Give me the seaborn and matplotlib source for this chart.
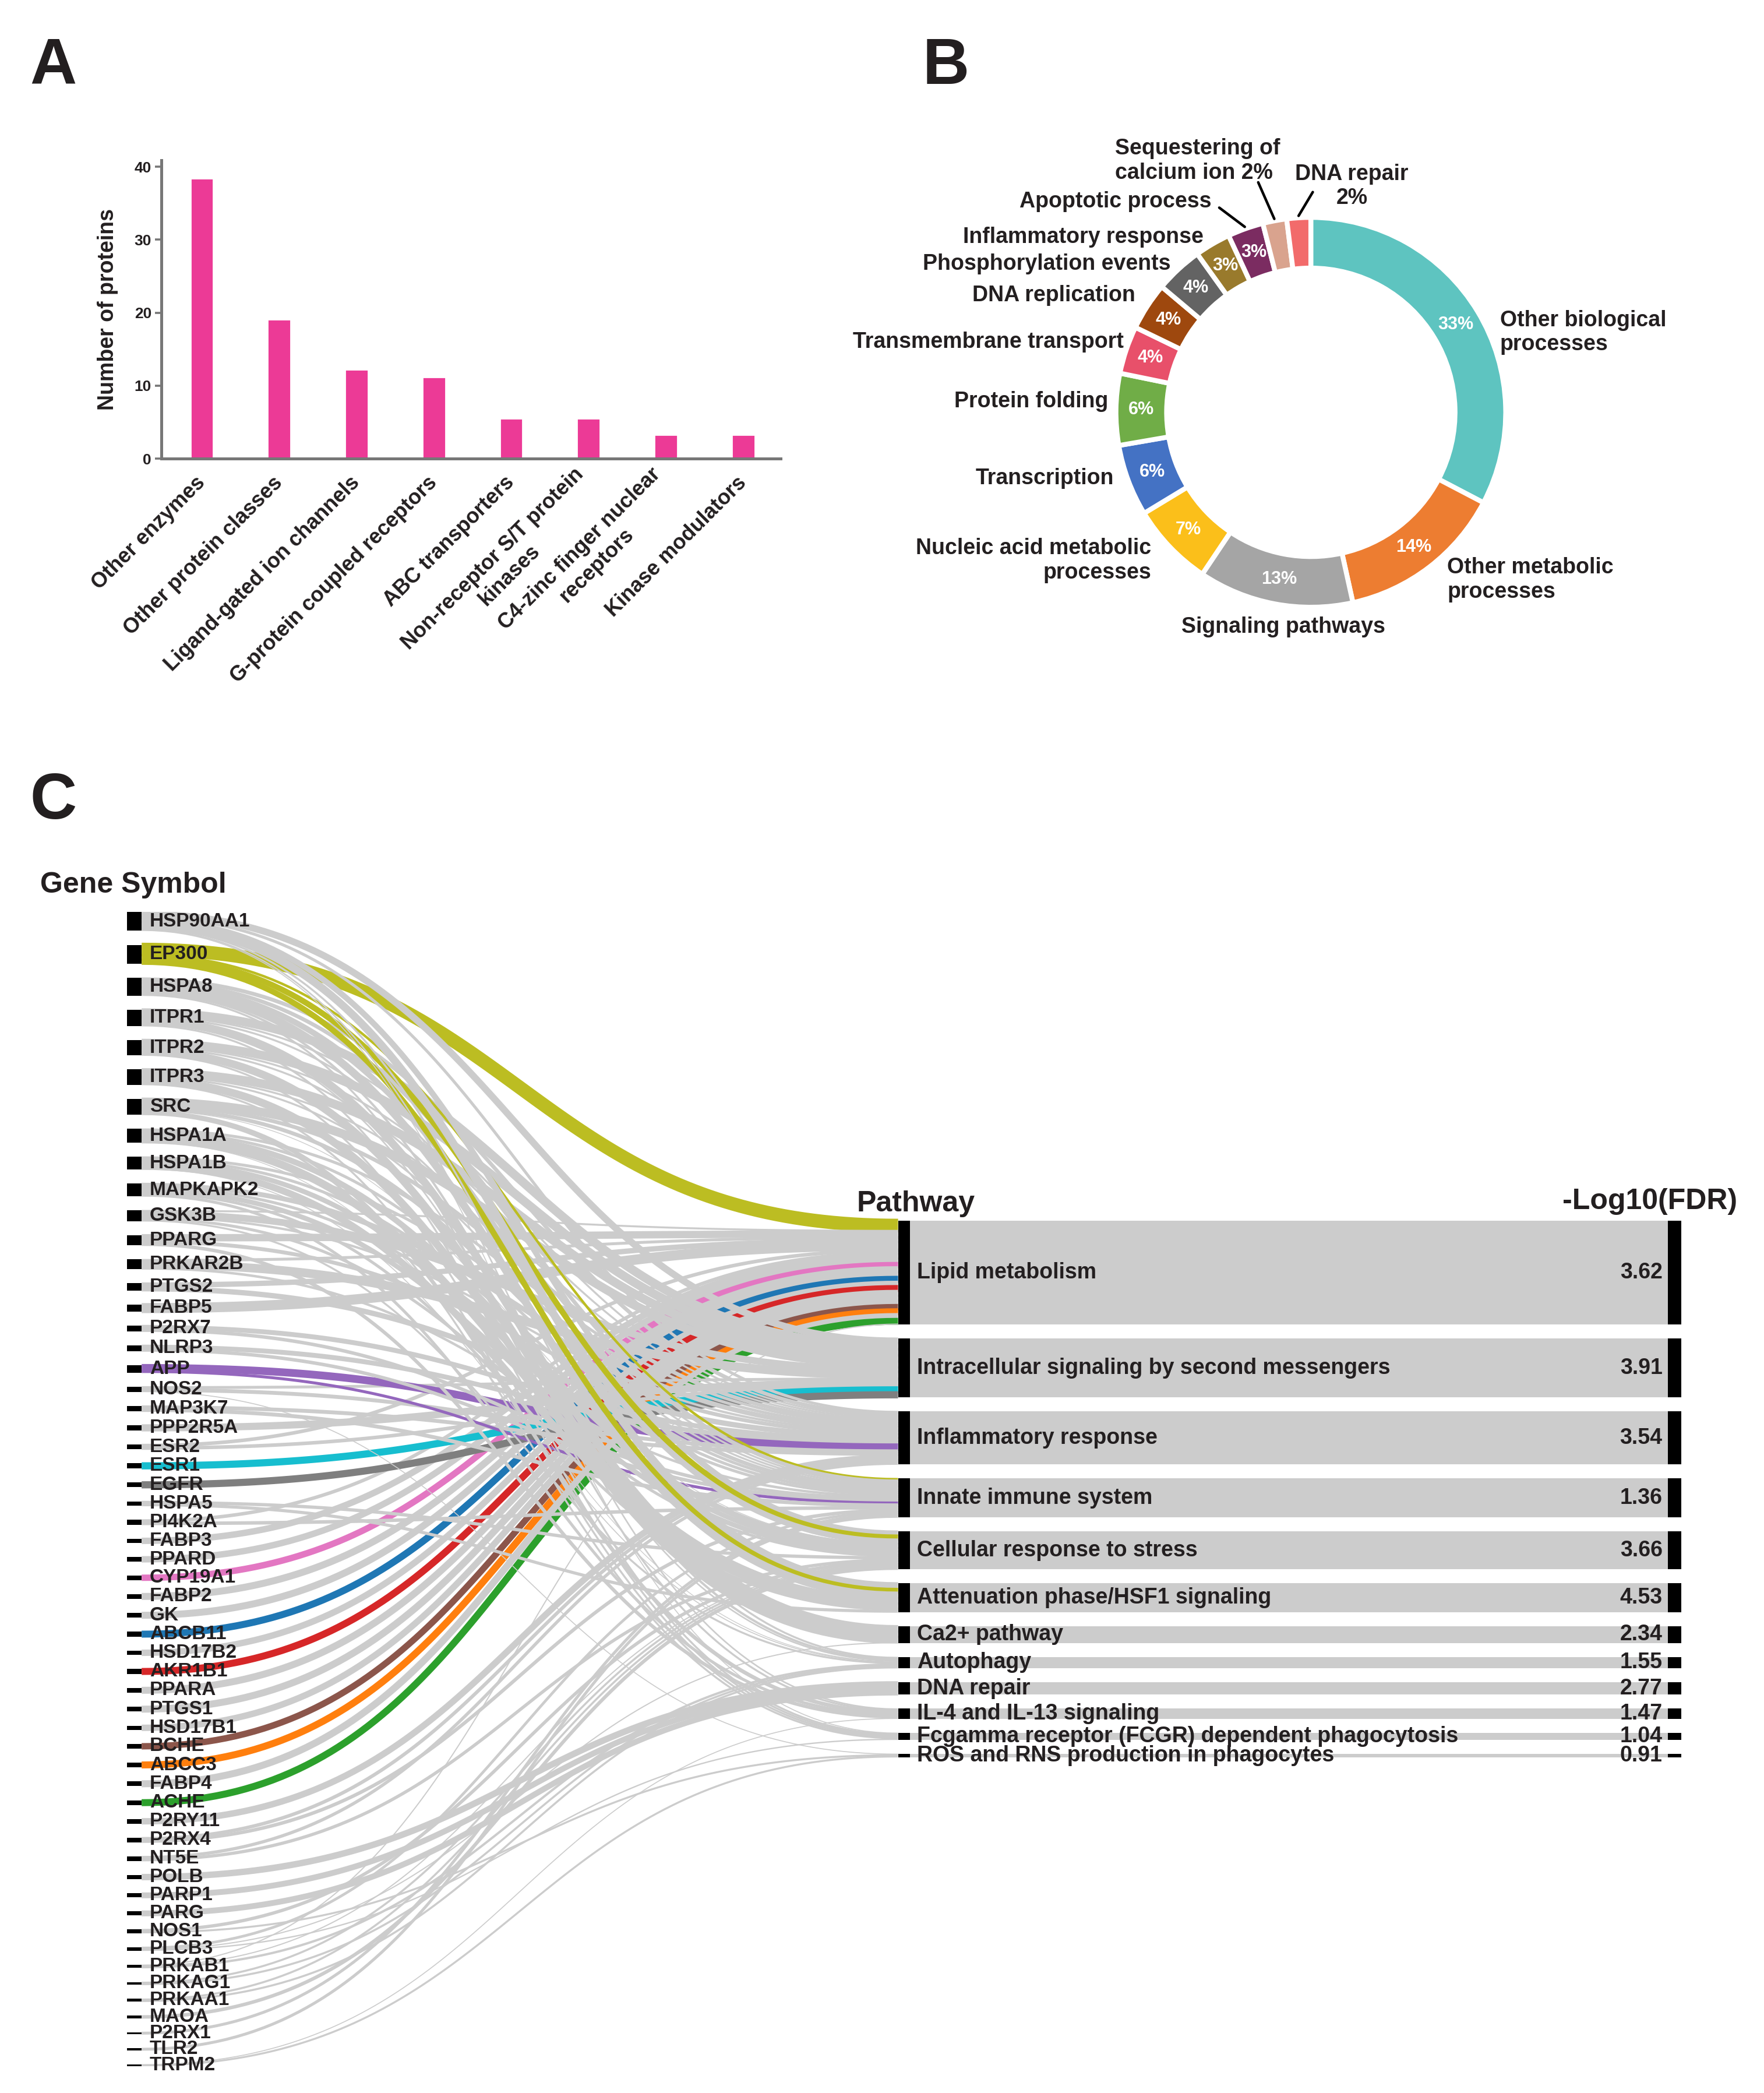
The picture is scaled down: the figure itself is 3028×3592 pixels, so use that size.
import numpy as np
import pandas as pd
import matplotlib
matplotlib.use("Agg")
import matplotlib.pyplot as plt
import seaborn as sns

sns.set_theme(style="ticks")
plt.rcParams["font.family"] = ["Liberation Sans", "DejaVu Sans"]
plt.rcParams["font.weight"] = "bold"
plt.rcParams["axes.labelweight"] = "bold"

TXT = "#231f20"

# ---------------- panel A data
classes = ["Other enzymes", "Other protein classes", "Ligand-gated ion channels",
           "G-protein coupled receptors", "ABC transporters",
           "Non-receptor S/T protein\nkinases", "C4-zinc finger nuclear\nreceptors",
           "Kinase modulators"]
n_proteins = [38.4, 19.1, 12.2, 11.2, 5.5, 5.5, 3.3, 3.3]

# ---------------- panel B data
processes = ["Other biological\nprocesses", "Other metabolic\nprocesses", "Signaling pathways",
             "Nucleic acid metabolic\nprocesses", "Transcription", "Protein folding",
             "Transmembrane transport", "DNA replication", "Phosphorylation events",
             "Inflammatory response", "Apoptotic process", "Sequestering of\ncalcium ion 2%",
             "DNA repair\n2%"]
process_pct = [33, 14, 13, 7, 6, 6, 4, 4, 4, 3, 3, 2, 2]
process_colors = ["#5ec4c0", "#ed7d31", "#a5a5a5", "#fbbf1a", "#4472c4", "#70ad47",
                  "#e8506a", "#9e480e", "#636363", "#997a2c", "#7b2c61", "#d9a38e", "#f26b6b"]

# ---------------- panel C data
genes = ["HSP90AA1", "EP300", "HSPA8", "ITPR1", "ITPR2", "ITPR3", "SRC", "HSPA1A", "HSPA1B",
         "MAPKAPK2", "GSK3B", "PPARG", "PRKAR2B", "PTGS2", "FABP5", "P2RX7", "NLRP3", "APP",
         "NOS2", "MAP3K7", "PPP2R5A", "ESR2", "ESR1", "EGFR", "HSPA5", "PI4K2A", "FABP3",
         "PPARD", "CYP19A1", "FABP2", "GK", "ABCB11", "HSD17B2", "AKR1B1", "PPARA", "PTGS1",
         "HSD17B1", "BCHE", "ABCC3", "FABP4", "ACHE", "P2RY11", "P2RX4", "NT5E", "POLB",
         "PARP1", "PARG", "NOS1", "PLCB3", "PRKAB1", "PRKAG1", "PRKAA1", "MAOA", "P2RX1",
         "TLR2", "TRPM2"]
pathways = ["Lipid metabolism", "Intracellular signaling by second messengers",
            "Inflammatory response", "Innate immune system", "Cellular response to stress",
            "Attenuation phase/HSF1 signaling", "Ca2+ pathway", "Autophagy", "DNA repair",
            "IL-4 and IL-13 signaling", "Fcgamma receptor (FCGR) dependent phagocytosis",
            "ROS and RNS production in phagocytes"]
path_codes = ["LM", "IS", "IR", "II", "CS", "AT", "CA", "AU", "DR", "IL", "FC", "RO"]
fdr = [3.62, 3.91, 3.54, 1.36, 3.66, 4.53, 2.34, 1.55, 2.77, 1.47, 1.04, 0.91]

link_gene = (["HSP90AA1"] * 7 + ["EP300"] * 4 + ["HSPA8"] * 6 + ["ITPR1"] * 6 + ["ITPR2"] * 5
             + ["ITPR3"] * 5 + ["SRC"] * 6 + ["HSPA1A"] * 5 + ["HSPA1B"] * 5 + ["MAPKAPK2"] * 5
             + ["GSK3B"] * 5 + ["PPARG"] * 3 + ["PRKAR2B"] * 3 + ["PTGS2"] * 2 + ["FABP5"]
             + ["P2RX7"] * 2 + ["NLRP3"] * 2 + ["APP"] * 2 + ["NOS2"] * 3 + ["MAP3K7"] * 2
             + ["PPP2R5A"] + ["ESR2"] * 2 + ["ESR1", "EGFR"] + ["HSPA5"] * 2 + ["PI4K2A"] * 2
             + ["FABP3", "PPARD", "CYP19A1", "FABP2", "GK", "ABCB11", "HSD17B2", "AKR1B1",
                "PPARA", "PTGS1", "HSD17B1", "BCHE", "ABCC3", "FABP4", "ACHE", "P2RY11"]
             + ["P2RX4"] * 2 + ["NT5E"] * 2 + ["POLB", "PARP1", "PARG"] + ["NOS1"] * 2
             + ["PLCB3"] * 3 + ["PRKAB1"] * 3 + ["PRKAG1"] * 2 + ["PRKAA1"] * 2
             + ["MAOA", "P2RX1", "TLR2"] + ["TRPM2"] * 2)
link_path = (["IS", "IR", "CS", "AT", "AU", "IL", "FC"] + ["LM", "II", "CS", "AT"]
             + ["IR", "II", "CS", "AT", "AU", "IL"] + ["IS", "IR", "II", "CA", "AU", "FC"]
             + ["IS", "IR", "II", "CA", "FC"] + ["IS", "IR", "II", "CA", "FC"]
             + ["IS", "IR", "II", "CS", "IL", "FC"] + ["IR", "II", "CS", "AT", "AU"]
             + ["IR", "II", "CS", "AT", "AU"] + ["IR", "II", "CS", "AT", "IL"]
             + ["LM", "IS", "IR", "CS", "AU"] + ["LM", "IR", "IL"] + ["LM", "IS", "II"]
             + ["LM", "IR"] + ["LM"] + ["IR", "II"] + ["IR", "II"] + ["IR", "II"]
             + ["IS", "IR", "RO"] + ["IR", "II"] + ["IS"] + ["LM", "IS"] + ["IS", "IS"]
             + ["CS", "AT"] + ["LM", "II"] + ["LM"] * 15 + ["IR"] + ["IR", "II"] + ["IR", "CS"]
             + ["DR", "DR", "DR"] + ["CS", "RO"] + ["II", "CA", "FC"] + ["LM", "CS", "AU"]
             + ["CS", "AU"] + ["CS", "AU"] + ["CS", "II", "II"] + ["IL", "RO"])
link_width = ([3.5, 1.5, 3, 4, 1, 0.8, 0.5] + [7, 1.3, 3, 3] + [2, 2, 3, 4, 1.2, 1]
              + [4.5, 1, 1, 4, 0.8, 1] + [4.5, 1, 1, 4, 1] + [4.5, 1, 1, 4, 1]
              + [4.5, 2, 2, 0.4, 2, 1] + [1.5, 1.5, 3, 4, 0.4] + [1.5, 1.5, 2.5, 3.5, 0.5]
              + [2.5, 1.5, 2.5, 1.5, 1.5] + [1, 3.5, 1.2, 1.5, 1] + [3.8, 2, 1.8]
              + [1.5, 4.5, 1.3] + [2.75, 2.75] + [5.2] + [2.5, 1.8] + [2.5, 1.8] + [4, 1.5]
              + [1.5, 2, 0.5] + [2, 2] + [3.7] + [1.85, 1.85] + [3.7, 3.7] + [1.7, 1.6]
              + [1.8, 1.8] + [3.3, 3.3, 3.3, 3.6, 3.6, 3.6, 3.3, 3.6, 3.6, 3.6, 3.3, 3.3, 3.6,
                              3.6, 3.6] + [3.3] + [1.8, 1.8] + [1.65, 1.65] + [3.3, 3, 3]
              + [1.7, 1] + [1.4, 0.6, 0.7] + [0.6, 0.6, 1.2] + [1.05, 1.05] + [1.05, 1.05]
              + [1.8, 1.5, 1.5] + [0.5, 1])

# ---------------------------------------------------------------- figure
fig = plt.figure(figsize=(15.14, 17.96), dpi=200)

for letter, x, y in [("A", 0.017, 0.968), ("B", 0.523, 0.968), ("C", 0.017, 0.617)]:
    fig.text(x, y, letter, fontsize=40, fontweight="bold", color=TXT, va="center")

# ---------------- A: bar chart
axA = fig.add_axes([0.0914, 0.7809, 0.351, 0.1426])
dfA = pd.DataFrame({"cls": classes, "n": n_proteins})
sns.barplot(data=dfA, x="cls", y="n", color="#ec3a96", saturation=1, width=0.3, ax=axA)
axA.set_xlim(-0.525, 7.48)
axA.set_ylim(0, 40.9)
axA.set_yticks([0, 10, 20, 30, 40])
axA.set_xlabel("")
axA.set_ylabel("Number of proteins", fontsize=13.5, color=TXT, labelpad=10)
axA.set_xticks(range(len(classes)))
axA.set_xticklabels(classes, rotation=45, ha="right", va="center", rotation_mode="anchor",
                    fontsize=13, color=TXT, multialignment="center")
axA.tick_params(axis="x", length=0, pad=13)
axA.tick_params(axis="y", length=4, width=1.3, color="#777777", labelsize=9.5,
                labelcolor=TXT, pad=2)
sns.despine(ax=axA)
for s in ["left", "bottom"]:
    axA.spines[s].set_color("#777777")
    axA.spines[s].set_linewidth(1.8)

# ---------------- B: donut
axB = fig.add_axes([0.4886, 0.654, 0.509, 0.298])
wedges, _ = axB.pie(process_pct, colors=process_colors, startangle=90, counterclock=False,
                    radius=1, wedgeprops=dict(width=0.26, edgecolor="white", linewidth=3))
axB.set_xlim(-2.3, 2.3)
axB.set_ylim(-1.6, 1.6)
axB.set_aspect("equal")
axB.axis("off")

label_pos = [(0.97, 0.41, "left"), (0.70, -0.86, "left"), (-0.14, -1.10, "center"),
             (-0.82, -0.76, "right"), (-1.01, -0.34, "right"), (-1.04, 0.055, "right"),
             (-0.96, 0.36, "right"), (-0.90, 0.60, "right"), (-0.72, 0.76, "right"),
             (-0.55, 0.90, "right"), (-0.51, 1.08, "right"), (-0.58, 1.29, "center"),
             (0.21, 1.16, "center")]
# start of the leader line next to the label, for the three small top slices
leader_start = {10: (-0.47, 1.05), 11: (-0.27, 1.18), 12: (0.01, 1.13)}
for i, (w, pct, name) in enumerate(zip(wedges, process_pct, processes)):
    ang = np.deg2rad((w.theta1 + w.theta2) / 2)
    if pct >= 3:
        axB.text(0.87 * np.cos(ang), 0.87 * np.sin(ang), f"{pct}%", color="white",
                 fontsize=11, ha="center", va="center")
    lx, ly, ha = label_pos[i]
    malign = "left" if i == 11 else ha
    axB.text(lx, ly, name, ha=ha, va="center", fontsize=13.5, color=TXT,
             multialignment=malign)
    if i in leader_start:
        sx, sy = leader_start[i]
        axB.plot([sx, 1.01 * np.cos(ang)], [sy, 1.01 * np.sin(ang)], color="black", lw=1.6)

# ---------------- C: gene -> pathway sankey
SPAN = 865.0
axC = fig.add_axes([95 / 1320, 1 - 1548 / 1568, 1163 / 1320, SPAN / 1568])
axC.set_xlim(0, 1163)
axC.set_ylim(SPAN, 0)
axC.axis("off")

links = pd.DataFrame({"gene": link_gene, "path": link_path, "w": link_width})
links["gi"] = links["gene"].map({g: i for i, g in enumerate(genes)})
links["pi"] = links["path"].map({p: i for i, p in enumerate(path_codes)})

gene_tot = links.groupby("gi")["w"].sum().reindex(range(len(genes))).values
path_tot = links.groupby("pi")["w"].sum().reindex(range(len(pathways))).values
total = gene_tot.sum()
gap = (SPAN - total) / (len(genes) - 1)
gene_top = np.concatenate([[0], np.cumsum(gene_tot + gap)[:-1]])
right_span = total + gap * (len(pathways) - 1)
path_top = (SPAN - right_span) / 2 + np.concatenate([[0], np.cumsum(path_tot + gap)[:-1]])

links = links.sort_values(["gi", "pi"])
links["y0"] = gene_top[links["gi"]] + links.groupby("gi")["w"].cumsum() - links["w"]
links = links.sort_values(["pi", "gi"])
links["y1"] = path_top[links["pi"]] + links.groupby("pi")["w"].cumsum() - links["w"]

# x layout (in axis units)
GX0, GX1 = 0, 11
PX0, PX1, PX2, PX3 = 577, 586, 1153, 1163

pal = sns.color_palette("tab10")
hcol = {"ABCB11": pal[0], "ABCC3": pal[1], "ACHE": pal[2], "AKR1B1": pal[3], "APP": pal[4],
        "BCHE": pal[5], "CYP19A1": pal[6], "EGFR": pal[7], "EP300": pal[8], "ESR1": pal[9]}

pt_per_unit = (SPAN / 1568 * 17.96 * 72) / SPAN
t = np.linspace(0, 1, 100)
xm = (GX1 + PX0) / 2
bx = (1 - t) ** 3 * GX1 + 3 * (1 - t) ** 2 * t * xm + 3 * (1 - t) * t ** 2 * xm + t ** 3 * PX0
s = 3 * (1 - t) * t ** 2 + t ** 3

# links drawn pathway by pathway, so later ribbons cross over earlier ones
for k, r in enumerate(links.itertuples()):
    ya = r.y0 + r.w / 2
    yb = r.y1 + r.w / 2
    axC.plot(bx, ya + (yb - ya) * s, color=hcol.get(r.gene, "#cccccc"),
             lw=r.w * pt_per_unit * 1.45, solid_capstyle="butt", zorder=1 + k * 0.001)

# gene nodes and labels
axC.bar(np.full(len(genes), GX0), gene_tot, width=GX1 - GX0, bottom=gene_top, align="edge",
        color="black", linewidth=0, zorder=3)
for g, y, h in zip(genes, gene_top, gene_tot):
    axC.text(17, y + h / 2, g, fontsize=12, color=TXT, va="center", ha="left", zorder=4)

# pathway nodes, bands and labels
axC.bar(np.full(len(pathways), PX0), path_tot, width=PX1 - PX0, bottom=path_top,
        align="edge", color="black", linewidth=0, zorder=3)
axC.bar(np.full(len(pathways), PX1), path_tot, width=PX2 - PX1, bottom=path_top,
        align="edge", color="#cccccc", linewidth=0, zorder=2)
axC.bar(np.full(len(pathways), PX2), path_tot, width=PX3 - PX2, bottom=path_top,
        align="edge", color="black", linewidth=0, zorder=3)
for name, v, y, h in zip(pathways, fdr, path_top, path_tot):
    axC.text(PX1 + 5, y + h / 2, name, fontsize=13.5, color=TXT, va="center", ha="left",
             zorder=4)
    axC.text(PX2 - 4, y + h / 2, f"{v:.2f}", fontsize=13.5, color=TXT, va="center",
             ha="right", zorder=4)

fig.text(30 / 1320, 1 - 663 / 1568, "Gene Symbol", fontsize=18, color=TXT, va="center")
fig.text(641 / 1320, 1 - 902 / 1568, "Pathway", fontsize=18, color=TXT, va="center")
fig.text(1300 / 1320, 1 - 900 / 1568, "-Log10(FDR)", fontsize=18, color=TXT, va="center",
         ha="right")

fig.savefig("out.png", dpi=200, facecolor="white")
